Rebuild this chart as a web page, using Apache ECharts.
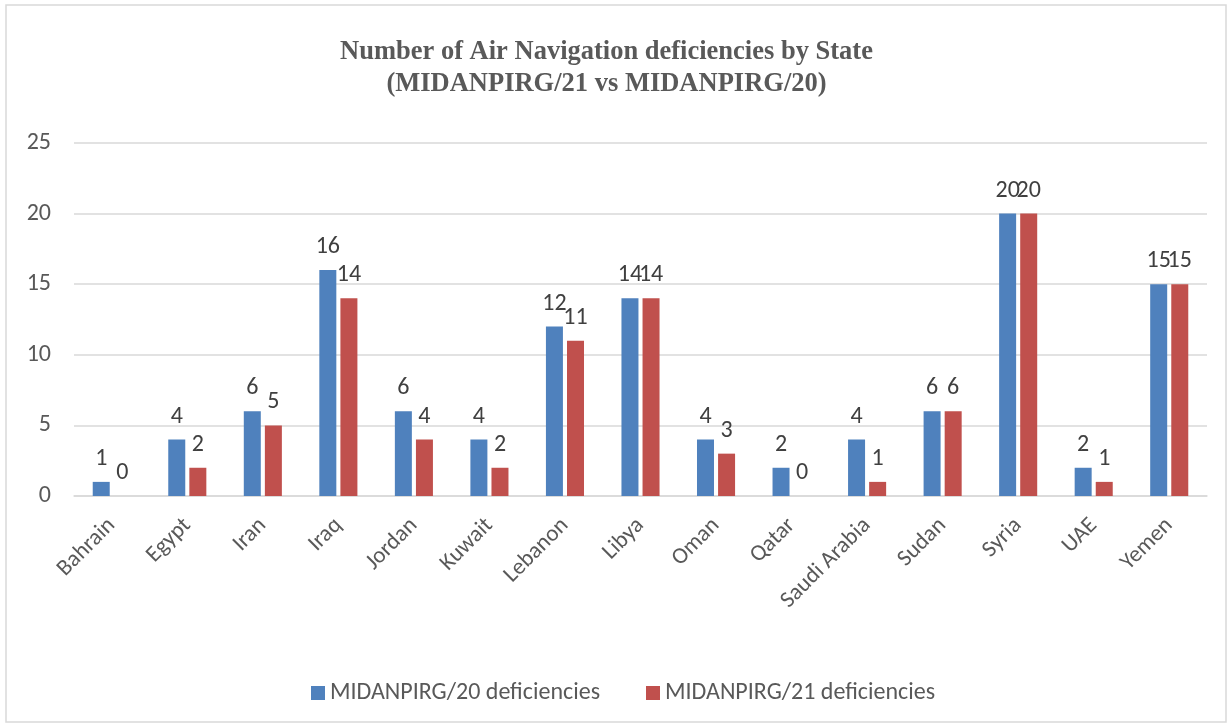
<!DOCTYPE html>
<html><head><meta charset="utf-8">
<script src="https://cdn.jsdelivr.net/npm/echarts@6/dist/echarts.min.js"></script>
<style>html,body{margin:0;padding:0;background:#fff}#c{width:1232px;height:727px}</style>
</head><body><div id="c"></div>
<script>
const categories = ["Bahrain","Egypt","Iran","Iraq","Jordan","Kuwait","Lebanon","Libya","Oman","Qatar","Saudi Arabia","Sudan","Syria","UAE","Yemen"];
const midanpirg20 = [1,4,6,16,6,4,12,14,4,2,4,6,20,2,15];
const midanpirg21 = [0,2,5,14,4,2,11,14,3,0,1,6,20,1,15];
const yTicks = {min:0, max:25, interval:5};
const titleText = 'Number of Air Navigation deficiencies by State\n(MIDANPIRG/21 vs MIDANPIRG/20)';

const FONT = "Carlito, 'Liberation Sans Narrow', 'Open Sans', sans-serif";
const chart = echarts.init(document.getElementById('c'));
const labelStyle = {show:true, position:'top', color:'#404040', fontSize:24, fontFamily:FONT, distance:11};
chart.setOption({
  animation:false,
  graphic:[
    {type:'rect', shape:{x:6,y:5,width:1220,height:717}, style:{fill:'none', stroke:'#d9d9d9', lineWidth:1.5}},
    {type:'text', x:606.5, y:36, style:{text:titleText, align:'center', verticalAlign:'top',
      fontFamily:"'Liberation Serif', 'Times New Roman', serif", fontWeight:'bold', fontSize:26.5, fill:'#595959', lineHeight:32}}
  ],
  legend:{
    bottom:17, left:306, itemWidth:14, itemHeight:14, itemGap:46,
    icon:'rect',
    textStyle:{fontFamily:FONT, fontSize:24, color:'#595959'}
  },
  grid:{left:74, right:25, top:143, bottom:231},
  xAxis:{
    type:'category', data:categories,
    axisLine:{lineStyle:{color:'#d9d9d9', width:1.5}},
    axisTick:{show:false},
    axisLabel:{rotate:45, fontFamily:FONT, fontSize:23, color:'#595959', margin:26, interval:0}
  },
  yAxis:{
    type:'value', min:yTicks.min, max:yTicks.max, interval:yTicks.interval,
    axisLine:{show:false}, axisTick:{show:false},
    splitLine:{lineStyle:{color:'#d9d9d9', width:1.5}},
    axisLabel:{fontFamily:FONT, fontSize:24, color:'#595959', margin:23}
  },
  series:[
    {name:'MIDANPIRG/20 deficiencies', type:'bar', data:midanpirg20, barWidth:17, barGap:'24%',
     itemStyle:{color:'#4F81BD'}, label:labelStyle},
    {name:'MIDANPIRG/21 deficiencies', type:'bar', data:midanpirg21, barWidth:17,
     itemStyle:{color:'#C0504D'}, label:labelStyle}
  ]
});
</script></body></html>
